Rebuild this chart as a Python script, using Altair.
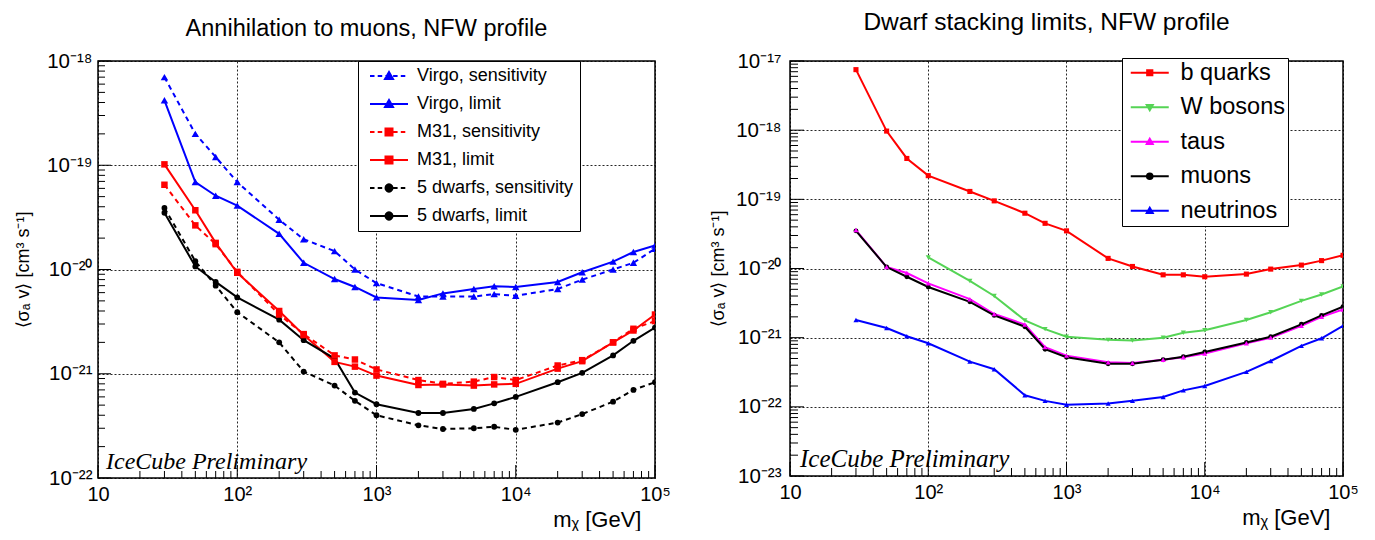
import altair as alt
import pandas as pd

# ---------------- data ----------------
masses = [30, 50, 70, 100, 200, 300, 500, 700, 1000, 2000, 3000, 5000, 7000,
          10000, 20000, 30000, 50000, 70000, 100000]

virgo_sens = [7.0e-19, 2.0e-19, 1.2e-19, 6.9e-20, 3.0e-20, 1.95e-20, 1.5e-20, 1.0e-20, 7.4e-21,
              5.5e-21, 5.5e-21, 5.5e-21, 5.8e-21, 5.6e-21, 6.5e-21, 8.0e-21, 1.0e-20, 1.16e-20, 1.58e-20]
virgo_lim = [4.2e-19, 6.9e-20, 5.1e-20, 4.1e-20, 2.2e-20, 1.16e-20, 8.1e-21, 6.8e-21, 5.4e-21,
             5.1e-21, 5.9e-21, 6.5e-21, 6.9e-21, 6.8e-21, 7.6e-21, 9.4e-21, 1.19e-20, 1.47e-20, 1.7e-20]
m31_sens = [6.5e-20, 2.65e-20, 1.75e-20, 9.5e-21, 3.7e-21, 2.4e-21, 1.5e-21, 1.37e-21, 1.1e-21,
            8.7e-22, 8.0e-22, 8.4e-22, 9.3e-22, 8.7e-22, 1.2e-21, 1.35e-21, 2.0e-21, 2.7e-21, 3.2e-21]
m31_lim = [1.02e-19, 3.7e-20, 1.8e-20, 9.3e-21, 4.0e-21, 2.35e-21, 1.3e-21, 1.17e-21, 9.6e-22,
           7.8e-22, 7.9e-22, 7.7e-22, 7.9e-22, 8.0e-22, 1.12e-21, 1.32e-21, 2.0e-21, 2.6e-21, 3.7e-21]
dwarf_sens = [3.9e-20, 1.2e-20, 7.0e-21, 3.9e-21, 2.0e-21, 1.05e-21, 7.7e-22, 5.5e-22, 4.0e-22,
              3.2e-22, 2.95e-22, 3.0e-22, 3.1e-22, 2.9e-22, 3.4e-22, 4.1e-22, 5.4e-22, 7.0e-22, 8.3e-22]
dwarf_lim = [3.5e-20, 1.07e-20, 7.6e-21, 5.4e-21, 3.3e-21, 2.1e-21, 1.4e-21, 6.6e-22, 5.1e-22,
             4.2e-22, 4.2e-22, 4.6e-22, 5.2e-22, 6.0e-22, 8.3e-22, 1.02e-21, 1.5e-21, 2.07e-21, 2.77e-21]

left_names = ["Virgo, sensitivity", "Virgo, limit", "M31, sensitivity", "M31, limit",
              "5 dwarfs, sensitivity", "5 dwarfs, limit"]
left_series = [virgo_sens, virgo_lim, m31_sens, m31_lim, dwarf_sens, dwarf_lim]

b_quarks = [7.5e-18, 9.7e-19, 3.9e-19, 2.2e-19, 1.3e-19, 9.5e-20, 6.3e-20, 4.5e-20, 3.5e-20,
            1.4e-20, 1.07e-20, 8.1e-21, 8.1e-21, 7.6e-21, 8.3e-21, 9.8e-21, 1.12e-20, 1.3e-20, 1.55e-20]
w_masses = [100, 200, 300, 500, 700, 1000, 2000, 3000, 5000, 7000, 10000, 20000, 30000, 50000, 70000, 100000]
w_bosons = [1.45e-20, 6.6e-21, 4.0e-21, 1.78e-21, 1.33e-21, 1.03e-21, 9.3e-22, 9.1e-22, 1.0e-21,
            1.18e-21, 1.28e-21, 1.8e-21, 2.33e-21, 3.4e-21, 4.2e-21, 5.5e-21]
taus = [3.6e-20, 1.05e-20, 8.6e-21, 6.1e-21, 3.6e-21, 2.2e-21, 1.55e-21, 7.3e-22, 5.5e-22,
        4.4e-22, 4.3e-22, 4.8e-22, 5.2e-22, 5.9e-22, 8.3e-22, 1.0e-21, 1.48e-21, 2.0e-21, 2.55e-21]
muons = [3.5e-20, 1.05e-20, 7.6e-21, 5.4e-21, 3.3e-21, 2.1e-21, 1.44e-21, 6.8e-22, 5.2e-22,
         4.2e-22, 4.2e-22, 4.8e-22, 5.3e-22, 6.2e-22, 8.5e-22, 1.03e-21, 1.56e-21, 2.1e-21, 2.8e-21]
neutrinos = [1.8e-21, 1.38e-21, 1.05e-21, 8.3e-22, 4.5e-22, 3.5e-22, 1.47e-22, 1.22e-22, 1.07e-22,
             1.12e-22, 1.22e-22, 1.39e-22, 1.73e-22, 2.0e-22, 3.2e-22, 4.6e-22, 7.6e-22, 9.8e-22, 1.48e-21]

right_names = ["b quarks", "W bosons", "taus", "muons", "neutrinos"]
right_series = [b_quarks, w_bosons, taus, muons, neutrinos]
right_masses = [masses, w_masses, masses, masses, masses]

x_exponents = [1, 2, 3, 4, 5]
left_y_exponents = [-22, -21, -20, -19, -18]
right_y_exponents = [-23, -22, -21, -20, -19, -18, -17]

SANS = "Liberation Sans"
left_colors = ["#0000ff", "#0000ff", "#ff0000", "#ff0000", "#000000", "#000000"]
left_dashed = [True, False, True, False, True, False]
left_marks = ["triangle-up", "triangle-up", "square", "square", "circle", "circle"]
left_msize = {"triangle-up": 55, "square": 42, "circle": 34}
left_leg_marker = {"triangle-up": 4.0, "square": 3.5, "circle": 3.5}

right_colors = ["#ff0000", "#55d455", "#ff00ff", "#000000", "#0000ff"]
right_dashed = [False] * 5
right_marks = ["square", "triangle-down", "triangle-up", "circle", "triangle-up"]
right_msize = {"square": 26, "triangle-down": 26, "triangle-up": 26, "circle": 24}
right_leg_marker = {"square": 2.6, "triangle-down": 3.0, "triangle-up": 3.0, "circle": 2.8}

DASH = [5, 4]
SUP = str.maketrans("-0123456789", "⁻⁰¹²³⁴⁵⁶⁷⁸⁹")
NBSP = "\u00a0"

# legend symbol geometry (pixels); custom paths are in units of U px
U = 8.0
SYMBOL_SIZE = (2 * U) ** 2
LINE_LEN = 38.0


def pow_label(e):
    return "10" if e == 1 else "10" + str(e).translate(SUP)


def label_expr(exps):
    E = "round(log(datum.value)/LN10)"
    return " : ".join(f"{E} == {e} ? '{pow_label(e)}'" for e in exps) + " : ''"


def u(px):
    return (px - U) / U


def legend_path(dashed, kind, half_px, s0):
    x0, x1 = u(s0), u(s0 + LINE_LEN)
    if dashed:
        parts, x, d, g = [], x0, 4.5 / U, 3.2 / U
        while x < x1:
            parts.append(f"M{x:.3f},0H{min(x + d, x1):.3f}")
            x += d + g
        line = "".join(parts)
    else:
        line = f"M{x0:.3f},0H{x1:.3f}"
    cx, h = u(s0 + LINE_LEN / 2), half_px / U
    if kind == "triangle-up":
        m = f"M{cx:.3f},{-h:.3f}L{cx + h:.3f},{0.75*h:.3f}L{cx - h:.3f},{0.75*h:.3f}Z"
    elif kind == "triangle-down":
        m = f"M{cx:.3f},{h:.3f}L{cx + h:.3f},{-0.75*h:.3f}L{cx - h:.3f},{-0.75*h:.3f}Z"
    elif kind == "square":
        m = f"M{cx - h:.3f},{-h:.3f}H{cx + h:.3f}V{h:.3f}H{cx - h:.3f}Z"
    else:
        m = (f"M{cx - h:.3f},0a{h:.3f},{h:.3f} 0 1,0 {2*h:.3f},0"
             f"a{h:.3f},{h:.3f} 0 1,0 {-2*h:.3f},0Z")
    return line + m


def build_df(names, series, mass_lists):
    rows = []
    for name, vals, ms in zip(names, series, mass_lists):
        for m, v in zip(ms, vals):
            rows.append({"mass": m, "value": v, "series": name})
    return pd.DataFrame(rows)


def minor_values(lo_exp, hi_exp):
    return [k * 10.0 ** e for e in range(lo_exp, hi_exp) for k in range(2, 10)]


def panel(df, names, colors, dashed, marks, msize, leg_marker, y_exps, W, H, title, title_size,
          title_offset, title_dx, legend_cfg, s0, tick_minor, tick_major,
          y_title_pad, y_label_pad, x_title_end, ice_size, ice_x):
    xs = alt.Scale(type="log", domain=[10, 1e5], nice=False)
    ys = alt.Scale(type="log", domain=[10.0 ** y_exps[0], 10.0 ** y_exps[-1]], nice=False)

    x_axis = alt.Axis(values=[10.0 ** e for e in x_exponents], labelExpr=label_expr(x_exponents),
                      grid=True, gridDash=[2, 2], gridColor="#000000", gridOpacity=0.85,
                      ticks=False, domain=False, labelFont=SANS, labelFontSize=20,
                      labelColor="#000000", labelPadding=6, labelFlush=False, labelOverlap=False,
                      title="mᵪ [GeV]", titleFont=SANS, titleFontSize=22, titleFontWeight="normal",
                      titleColor="#000000", titleAnchor="end", titleAlign="right",
                      titleBaseline="alphabetic", titleX=W - x_title_end, titleY=48)
    y_axis = alt.Axis(values=[10.0 ** e for e in y_exps], labelExpr=label_expr(y_exps),
                      grid=True, gridDash=[2, 2], gridColor="#000000", gridOpacity=0.85,
                      ticks=False, domain=False, labelFont=SANS, labelFontSize=20.5,
                      labelColor="#000000", labelPadding=y_label_pad, labelFlush=False,
                      labelOverlap=False, title="⟨σₐ v⟩  [cm³ s⁻¹]", titleFont=SANS,
                      titleFontSize=18, titleFontWeight="normal", titleColor="#000000",
                      titlePadding=y_title_pad)

    def X(f):
        return alt.X(f, scale=xs, axis=x_axis)

    def Y(f):
        return alt.Y(f, scale=ys, axis=y_axis)

    leg = alt.Legend(title=None, symbolSize=SYMBOL_SIZE, labelOffset=s0 + LINE_LEN - 2 * U + 8,
                     **legend_cfg)
    base = alt.Chart(df)
    color_scale = alt.Scale(domain=names, range=colors)

    def C():
        return alt.Color("series:N", scale=color_scale, legend=leg)

    layers = []
    for is_dashed in sorted(set(dashed), reverse=True):
        group = [n for n, d in zip(names, dashed) if d == is_dashed]
        kw = {"strokeDash": DASH} if is_dashed else {}
        layers.append(
            base.transform_filter(alt.FieldOneOfPredicate(field="series", oneOf=group))
            .mark_line(strokeWidth=2, clip=True, **kw)
            .encode(x=X("mass:Q"), y=Y("value:Q"), color=C())
        )
    for kind in sorted(set(marks)):
        group = [n for n, k in zip(names, marks) if k == kind]
        layers.append(
            base.transform_filter(alt.FieldOneOfPredicate(field="series", oneOf=group))
            .mark_point(shape=kind, filled=True, opacity=1, size=msize[kind], clip=True)
            .encode(x=X("mass:Q"), y=Y("value:Q"), color=C())
        )

    # inward ticks
    xt = pd.DataFrame({"v": minor_values(1, 5)})
    xT = pd.DataFrame({"v": [10.0 ** e for e in x_exponents]})
    yt = pd.DataFrame({"v": minor_values(y_exps[0], y_exps[-1])})
    yT = pd.DataFrame({"v": [10.0 ** e for e in y_exps]})
    for d, ln in ((xt, tick_minor), (xT, tick_major)):
        layers.append(alt.Chart(d).mark_rule(color="#000000", strokeWidth=1).encode(
            x=X("v:Q"), y=alt.value(H), y2=alt.value(H - ln)))
    for d, ln in ((yt, tick_minor), (yT, tick_major)):
        layers.append(alt.Chart(d).mark_rule(color="#000000", strokeWidth=1).encode(
            y=Y("v:Q"), x=alt.value(0), x2=alt.value(ln)))

    # legend symbols: line + marker
    paths = [legend_path(dsh, k, leg_marker[k], s0) for dsh, k in zip(dashed, marks)]
    layers.append(
        base.transform_filter("false").mark_point(filled=False, opacity=1, strokeWidth=2).encode(
            x=X("mass:Q"), y=Y("value:Q"), color=C(),
            fill=alt.Fill("series:N", scale=alt.Scale(domain=names, range=colors), legend=leg),
            shape=alt.Shape("series:N", scale=alt.Scale(domain=names, range=paths), legend=leg),
        )
    )

    txt = alt.Chart(pd.DataFrame({"t": ["IceCube Preliminary"]})).mark_text(
        align="left", baseline="alphabetic", font="Liberation Serif", fontStyle="italic",
        fontSize=ice_size, color="#000000").encode(
        text="t:N", x=alt.value(ice_x), y=alt.value(H - 9))
    layers.append(txt)

    return alt.layer(*layers).properties(
        width=W, height=H,
        title=alt.TitleParams(title, font=SANS, fontSize=title_size, fontWeight="normal",
                              color="#000000", anchor="middle", offset=title_offset, dx=title_dx),
    )


left_df = build_df(left_names, left_series, [masses] * 6)
right_df = build_df(right_names, right_series, right_masses)

left_legend = dict(orient="none", legendX=260, legendY=0, fillColor="#ffffff",
                   strokeColor="#000000", padding=6, rowPadding=10, labelFont=SANS,
                   labelFontSize=18, labelColor="#000000", symbolStrokeWidth=2, labelLimit=400)
right_legend = dict(orient="none", legendX=332, legendY=-3, fillColor="#ffffff",
                    strokeColor="#000000", padding=3, rowPadding=9.5, labelFont=SANS,
                    labelFontSize=23.5, labelColor="#000000", symbolStrokeWidth=2, labelLimit=400,
                    labelExpr="datum.label + '" + NBSP * 8 + "'")

left = panel(left_df, left_names, left_colors, left_dashed, left_marks, left_msize, left_leg_marker,
             left_y_exponents, 557, 417, "Annihilation to muons, NFW profile", 23.5, 11, -10,
             left_legend, 5, 7, 13, 14, 6, 14, 24, 8)
right = panel(right_df, right_names, right_colors, right_dashed, right_marks, right_msize,
              right_leg_marker, right_y_exponents, 553, 415, "Dwarf stacking limits, NFW profile",
              24.5, 16, -20, right_legend, 2, 8, 14, 8, 9, 13, 25, 10)

chart = alt.hconcat(left, right, spacing=36).resolve_scale(
    color="independent", fill="independent", shape="independent"
).resolve_legend(
    color="independent", fill="independent", shape="independent"
).properties(
    padding={"left": 5, "top": 0, "right": 0, "bottom": 0}
).configure_view(stroke="#000000", strokeWidth=1.5)

chart.save("out.html", embed_options={"renderer": "svg", "actions": False})
